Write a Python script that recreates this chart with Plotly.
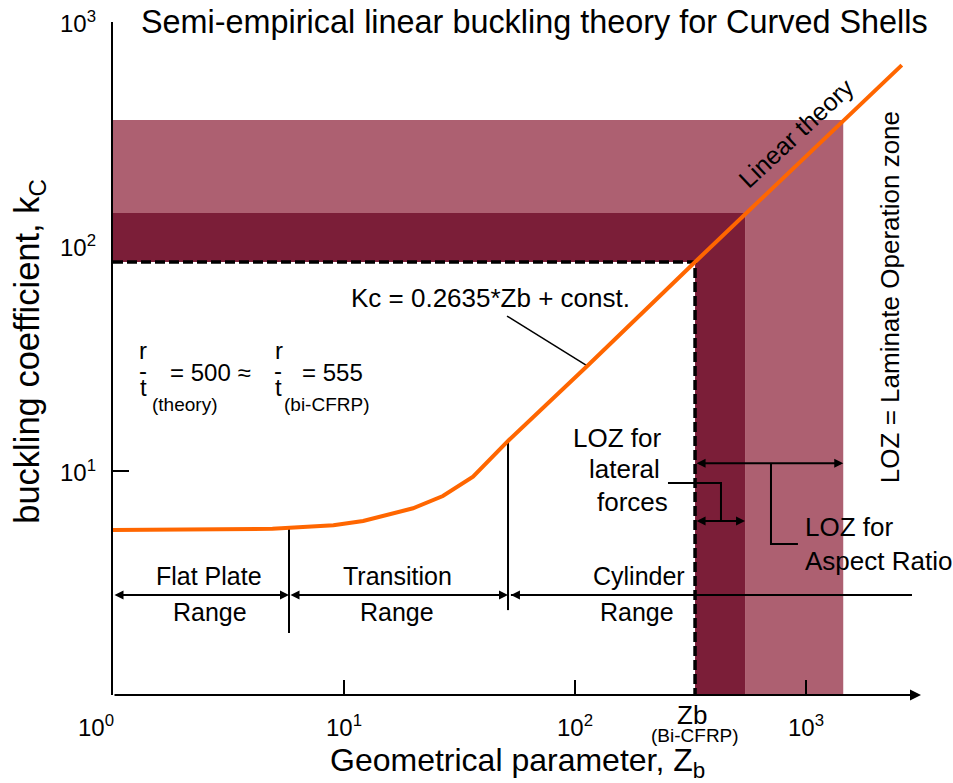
import numpy as np
import plotly.graph_objects as go

# ---------------- data ----------------
zb_curve = [1.0, 2.0, 4.9, 9.0, 12.1, 19.9, 26.8, 36.2, 51.8, 113.0, 331.0, 2600.0]
kc_curve = [5.44, 5.46, 5.51, 5.71, 5.97, 6.80, 7.71, 9.40, 13.7, 29.3, 85.2, 643.0]

zb_bicfrp = 331.0      # Zb (Bi-CFRP)
kc_bicfrp = 85.2
zb_loz_lateral = 545.0
kc_loz_lateral = 141.0
zb_loz_aspect = 1450.0
kc_loz_aspect = 366.0

range_bounds = [1.0, 5.78, 51.3]
range_names = ["Flat Plate", "Transition", "Cylinder"]
cylinder_end = 2877.0

x_tick_vals = [1, 10, 100, 1000]
x_tick_text = ["10<sup>0</sup>", "10<sup>1</sup>", "10<sup>2</sup>", "10<sup>3</sup>"]
y_tick_vals = [10, 100, 1000]
y_tick_text = ["10<sup>1</sup>", "10<sup>2</sup>", "10<sup>3</sup>"]

LIGHT = "#AD6071"
DARK = "#7B1E38"
ORANGE = "#FF6600"
FONT = "Liberation Sans, Arial, sans-serif"

L = np.log10


def kc_at(z):
    return 10 ** np.interp(L(z), L(zb_curve), L(kc_curve))


fig = go.Figure()

# Light L-shaped zone (LOZ for aspect ratio)
fig.add_trace(go.Scatter(
    x=[1, zb_loz_aspect, zb_loz_aspect, zb_loz_lateral, zb_loz_lateral, 1, 1],
    y=[kc_loz_aspect, kc_loz_aspect, 1, 1, kc_loz_lateral, kc_loz_lateral, kc_loz_aspect],
    fill="toself", fillcolor=LIGHT, mode="lines", line=dict(width=0), hoverinfo="skip"))
# Dark L-shaped zone (LOZ for lateral forces)
fig.add_trace(go.Scatter(
    x=[1, zb_loz_lateral, zb_loz_lateral, zb_bicfrp, zb_bicfrp, 1, 1],
    y=[kc_loz_lateral, kc_loz_lateral, 1, 1, kc_bicfrp, kc_bicfrp, kc_loz_lateral],
    fill="toself", fillcolor=DARK, mode="lines", line=dict(width=0), hoverinfo="skip"))

# dashed lines
fig.add_trace(go.Scatter(x=[1, zb_bicfrp, zb_bicfrp], y=[kc_bicfrp, kc_bicfrp, 1],
                         mode="lines", line=dict(color="black", width=3.5, dash="10px,4px"),
                         hoverinfo="skip"))

# range dividers
for zb, ybot in zip(range_bounds[1:], [1.89, 2.39]):
    fig.add_trace(go.Scatter(x=[zb, zb], y=[kc_at(zb), ybot], mode="lines",
                             line=dict(color="black", width=2), hoverinfo="skip"))

# Kc pointer
fig.add_trace(go.Scatter(x=[50.8, 113.0], y=[48.9, 29.3], mode="lines",
                         line=dict(color="black", width=1.5), hoverinfo="skip"))
# LOZ lateral bracket
fig.add_trace(go.Scatter(x=[252.7, 428.6, 428.6], y=[8.81, 8.81, 5.97], mode="lines",
                         line=dict(color="black", width=2), hoverinfo="skip"))
# LOZ aspect bracket
fig.add_trace(go.Scatter(x=[923.0, 705.6, 705.6], y=[4.71, 4.71, 10.8], mode="lines",
                         line=dict(color="black", width=2), hoverinfo="skip"))

# Curve
fig.add_trace(go.Scatter(x=zb_curve, y=kc_curve, mode="lines",
                         line=dict(color=ORANGE, width=4), hoverinfo="skip"))

ann = []


def arrow(x0, y0, x1, y1, both=False, size=0.9, width=2):
    ann.append(dict(x=L(x1), y=L(y1), ax=L(x0), ay=L(y0), xref="x", yref="y",
                    axref="x", ayref="y", text="", showarrow=True,
                    arrowhead=2, arrowsize=size, arrowwidth=width, arrowcolor="black",
                    arrowside="end+start" if both else "end",
                    startarrowhead=2, startarrowsize=size, standoff=0, startstandoff=0))


def txt(x, y, t, size, xanchor="center", yanchor="middle", angle=0, xref="x", yref="y", **kw):
    ann.append(dict(x=x, y=y, xref=xref, yref=yref, text=t, showarrow=False,
                    xanchor=xanchor, yanchor=yanchor, textangle=angle,
                    font=dict(family=FONT, size=size, color="black"), **kw))


# x axis line with arrow
arrow(1, 1, 10 ** 3.498, 1, size=1.1, width=2)

# range arrows
arrow(range_bounds[0], 2.79, range_bounds[1], 2.79, both=True)
arrow(range_bounds[1], 2.79, range_bounds[2], 2.79, both=True)
arrow(cylinder_end, 2.79, 52.8, 2.79)
fig.add_trace(go.Scatter(x=[52.8, cylinder_end], y=[2.79, 2.79], mode="lines",
                         line=dict(color="black", width=2), hoverinfo="skip"))
# LOZ arrows
arrow(zb_bicfrp, 5.97, zb_loz_lateral, 5.97, both=True)
arrow(zb_bicfrp, 10.8, zb_loz_aspect, 10.8, both=True)

# tick labels
for i, (v, t) in enumerate(zip(x_tick_vals, x_tick_text)):
    txt(L(v), 0, t, 24, yshift=-31, xshift=-17 if i == 0 else 0)
for v, t in zip(y_tick_vals, y_tick_text):
    txt(0, L(v), t, 24, xanchor="right", xref="paper", xshift=-15)

# texts
txt(0.0347, 1, "Semi-empirical linear buckling theory for Curved Shells", 32.4,
    xanchor="left", xref="paper", yref="paper", xshift=-2)
txt(0.5, 0, "Geometrical parameter, Z<sub>b</sub>", 32, xref="paper", yref="paper", yshift=-67)
txt(-0.1027, 0.51, "buckling coefficient, k<sub>C</sub>", 34.5, angle=-90, xref="paper", yref="paper")

txt(1.636, 1.770, "Kc = 0.2635*Zb + const.", 26)
txt(2.957, 2.505, "Linear theory", 25, angle=-43)
txt(3.364, 1.774, "LOZ = Laminate Operation zone", 26, angle=-90)
txt(2.182, 1.146, "LOZ for", 26)
txt(2.216, 1.007, "lateral", 26)
txt(2.247, 0.860, "forces", 26)
txt(2.987, 0.749, "LOZ for", 26, xanchor="left")
txt(2.987, 0.597, "Aspect Ratio", 26, xanchor="left")

for nm, xl in zip(range_names, [0.4156, 1.2338, 2.277]):
    txt(xl, 0.5305, nm, 25)
for xl in [0.42, 1.229, 2.268]:
    txt(xl, 0.370, "Range", 25)

# r/t ratios
for xr, xsub, xeq, sub, eq in [(0.132, 0.160, 0.238, "(theory)", "= 500 ≈"),
                               (0.7165, 0.7316, 0.8095, "(bi-CFRP)", "= 555")]:
    txt(xr, 1.535, "r", 24)
    txt(xr - 0.004, 1.447, "-", 24)
    txt(xr, 1.372, "t", 24)
    txt(xsub, 1.293, sub, 19, xanchor="left")
    txt(xeq, 1.440, eq, 24, xanchor="left")

txt(L(zb_bicfrp), 0, "Zb", 26, xshift=-3, yshift=-20)
txt(L(zb_bicfrp), 0, "(Bi-CFRP)", 19, yshift=-40)

fig.update_layout(
    width=953, height=783,
    margin=dict(l=113, r=32, t=22, b=88),
    paper_bgcolor="white", plot_bgcolor="white",
    showlegend=False,
    annotations=ann,
    xaxis=dict(type="log", range=[0, 3.498], showgrid=False, zeroline=False,
               showline=False, ticks="inside", tickvals=[10, 100, 1000], ticklen=15,
               tickwidth=2, tickcolor="black", showticklabels=False, layer="above traces"),
    yaxis=dict(type="log", range=[0, 3.0004], showgrid=False, zeroline=False,
               showline=True, linewidth=2, linecolor="black",
               ticks="inside", tickvals=y_tick_vals, ticklen=16,
               tickwidth=2, tickcolor="black", showticklabels=False, layer="below traces"),
)

fig.write_html("out.html")
